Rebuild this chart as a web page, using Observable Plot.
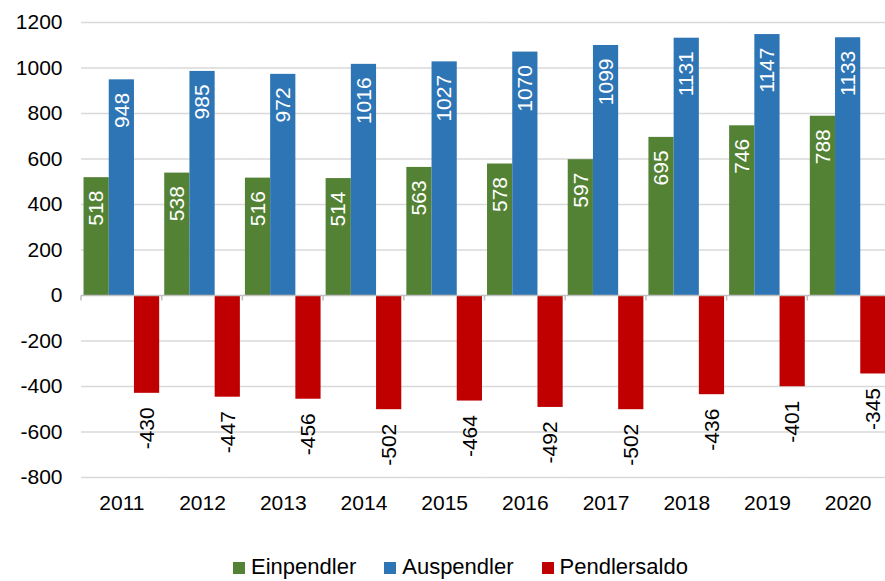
<!DOCTYPE html>
<html>
<head>
<meta charset="utf-8">
<script src="https://cdn.jsdelivr.net/npm/d3@7"></script>
<script src="https://cdn.jsdelivr.net/npm/@observablehq/plot@0.6"></script>
<style>
  html, body { margin: 0; padding: 0; background: #fff; }
  #wrap { width: 885px; height: 581px; overflow: hidden; position: relative; font-family: "Liberation Sans", Arial, sans-serif; }
  #chart svg { display: block; max-width: none !important; }
  #legend { display: flex; justify-content: center; align-items: baseline; gap: 28px; margin-top: 25px; padding-left: 36px; font-size: 22px; line-height: 24px; color: #000; }
  #legend .item { display: flex; align-items: baseline; }
  #legend .sw { display: inline-block; width: 12px; height: 12px; margin-right: 6px; }
</style>
</head>
<body>
<div id="wrap">
  <div id="chart"></div>
  <div id="legend"></div>
</div>
<script>
const years = [2011, 2012, 2013, 2014, 2015, 2016, 2017, 2018, 2019, 2020];
const seriesNames = ["Einpendler", "Auspendler", "Pendlersaldo"];
const seriesColors = ["#548235", "#2e75b6", "#c00000"];
const einpendler = [518, 538, 516, 514, 563, 578, 597, 695, 746, 788];
const auspendler = [948, 985, 972, 1016, 1027, 1070, 1099, 1131, 1147, 1133];
const pendlersaldo = [-430, -447, -456, -502, -464, -492, -502, -436, -401, -345];
const yTicks = [-800, -600, -400, -200, 0, 200, 400, 600, 800, 1000, 1200];

const seriesValues = [einpendler, auspendler, pendlersaldo];
const rows = [];
years.forEach((yr, i) => {
  seriesNames.forEach((s, j) => rows.push({year: String(yr), series: s, value: seriesValues[j][i]}));
});

const plot = Plot.plot({
  width: 888,
  height: 530,
  marginLeft: 81,
  marginRight: 0,
  marginTop: 22,
  marginBottom: 53,
  style: {fontSize: "21px", fontFamily: "'Liberation Sans', Arial, sans-serif", color: "#000", background: "#fff"},
  fx: {domain: years.map(String), padding: 0, round: false, label: null},
  x: {domain: seriesNames, paddingInner: 0, paddingOuter: 0.1, align: 0.5, round: false, axis: null},
  y: {domain: [-800, 1200], label: null},
  color: {domain: seriesNames, range: seriesColors},
  marks: [
    Plot.gridY(yTicks.filter(d => d !== 0), {stroke: "#d9d9d9", strokeOpacity: 1, strokeWidth: 1.5}),
    Plot.barY(rows, {fx: "year", x: "series", y: "value", fill: "series", inset: 0}),
    Plot.ruleY([0], {
      stroke: "#bfbfbf", strokeWidth: 1.5,
      render(index, scales, values, dimensions, context, next) {
        const g = next(index, scales, values, dimensions, context);
        const y0 = scales.y(0);
        const x0 = dimensions.marginLeft;
        d3.select(g).append("line")
          .attr("x1", x0).attr("x2", x0)
          .attr("y1", y0).attr("y2", y0 + 5)
          .attr("stroke", "#bfbfbf").attr("stroke-width", 1.5);
        return g;
      }
    }),
    Plot.text(rows.filter(d => d.value > 0), {
      fx: "year", x: "series", y: "value", text: d => String(d.value),
      rotate: -90, textAnchor: "end", lineAnchor: "middle", dy: 13, fill: "#fff", fontSize: 21
    }),
    Plot.text(rows.filter(d => d.value < 0), {
      fx: "year", x: "series", y: "value", text: d => String(d.value),
      rotate: -90, textAnchor: "end", lineAnchor: "middle", dy: 14, fill: "#000", fontSize: 21
    }),
    Plot.axisY(yTicks, {tickSize: 0, tickPadding: 19, label: null, fontSize: 21, tickFormat: d => String(d)}),
    Plot.axisFx({anchor: "bottom", tickSize: 0, tickPadding: 18, label: null, fontSize: 21})
  ]
});
document.getElementById("chart").appendChild(plot);

const legend = document.getElementById("legend");
seriesNames.forEach((s, i) => {
  const item = document.createElement("span");
  item.className = "item";
  const sw = document.createElement("span");
  sw.className = "sw";
  sw.style.background = seriesColors[i];
  item.appendChild(sw);
  item.appendChild(document.createTextNode(s));
  legend.appendChild(item);
});
</script>
</body>
</html>
